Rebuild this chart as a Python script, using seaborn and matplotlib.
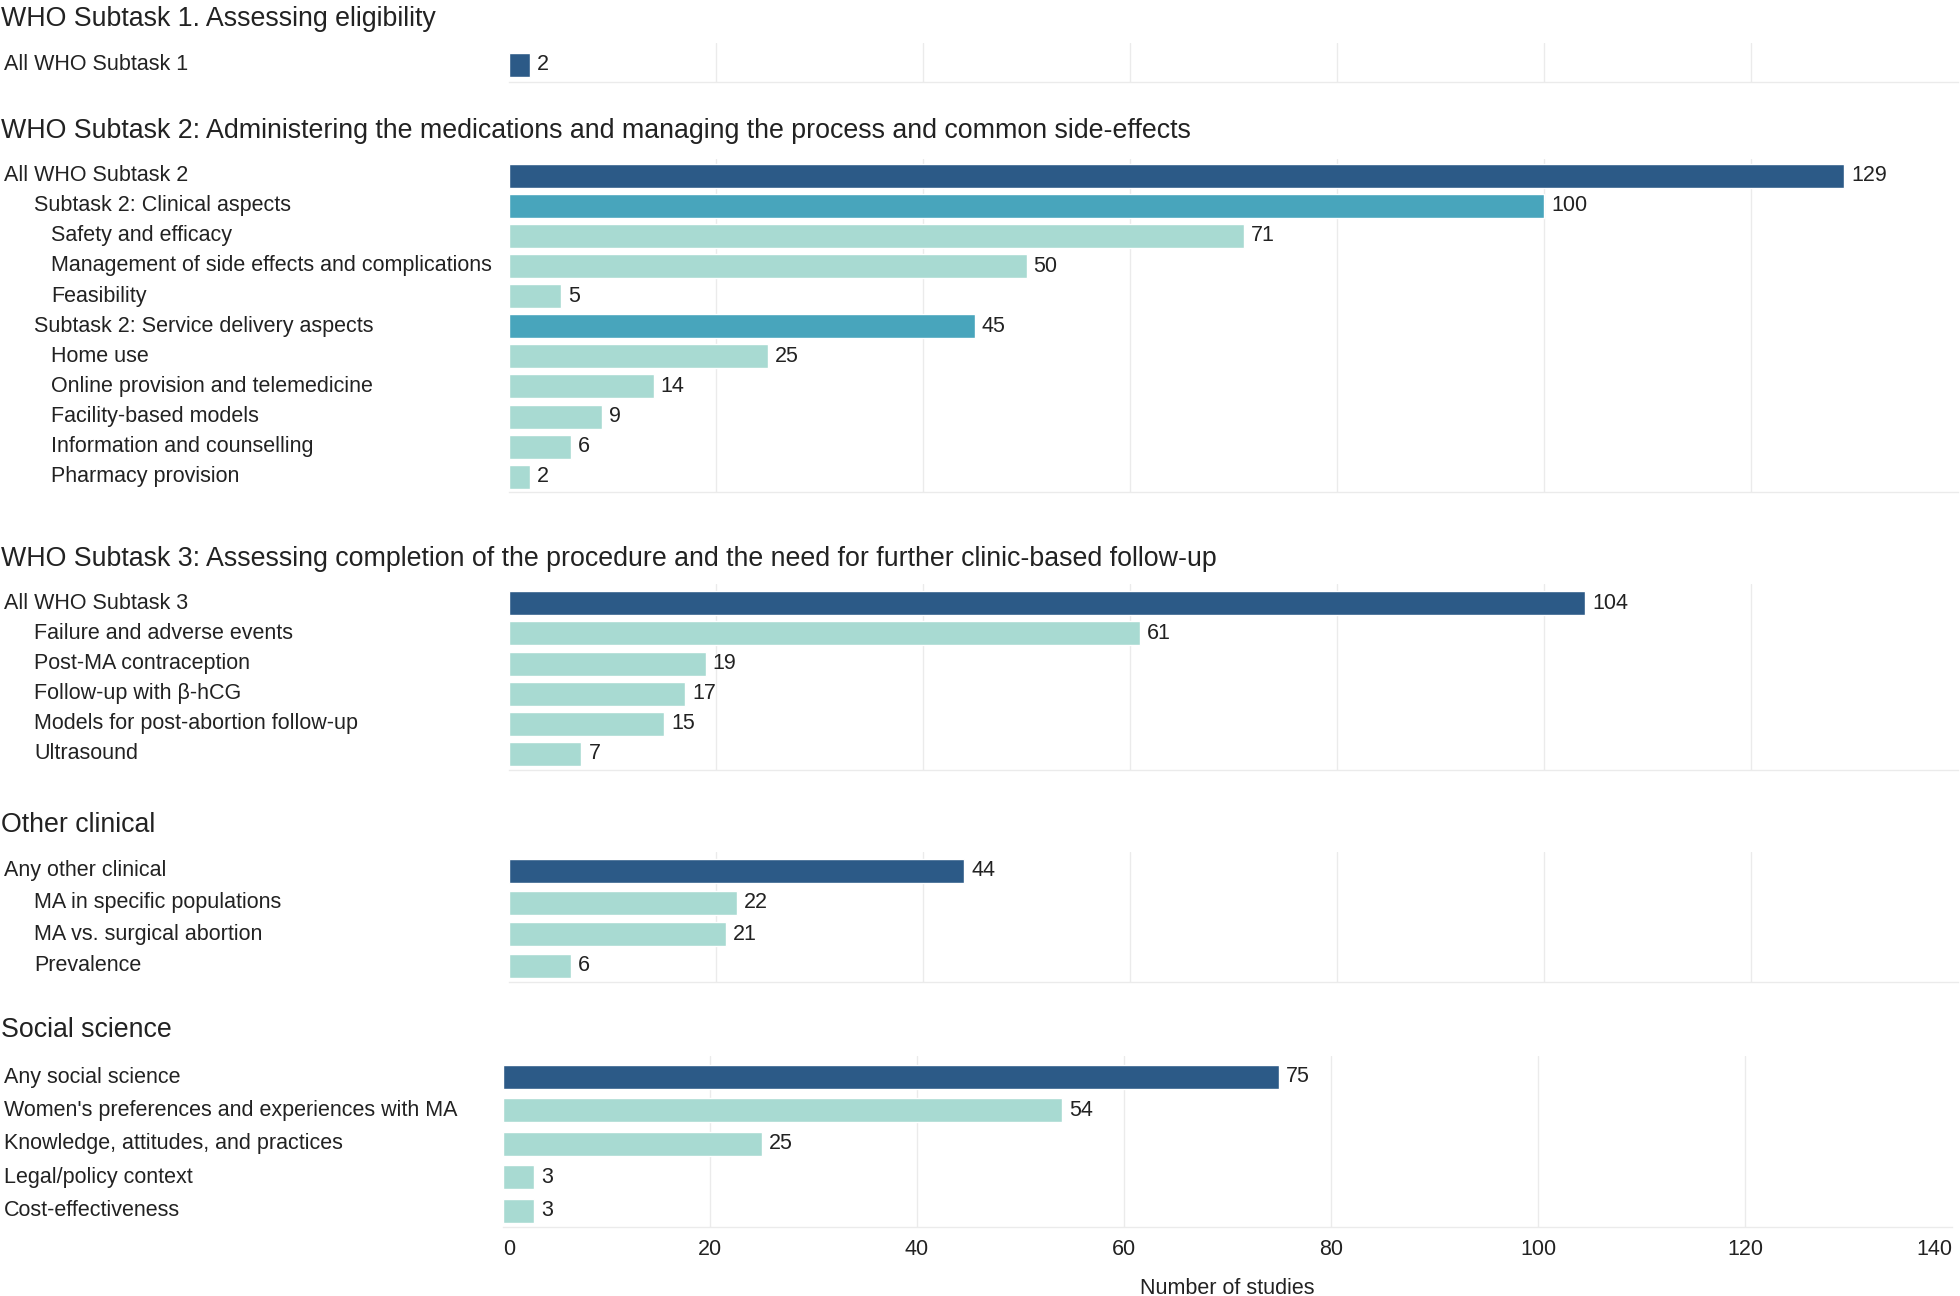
import matplotlib
matplotlib.use("Agg")
import matplotlib.pyplot as plt
from matplotlib.transforms import blended_transform_factory
import seaborn as sns
import pandas as pd

# ---- data ----
s1_title = "WHO Subtask 1. Assessing eligibility"
s1_labels = ["All WHO Subtask 1"]
s1_values = [2]
s1_depth = [0]
s1_kind = ["all"]

s2_title = "WHO Subtask 2: Administering the medications and managing the process and common side-effects"
s2_labels = ["All WHO Subtask 2", "Subtask 2: Clinical aspects", "Safety and efficacy",
             "Management of side effects and complications", "Feasibility",
             "Subtask 2: Service delivery aspects", "Home use", "Online provision and telemedicine",
             "Facility-based models", "Information and counselling", "Pharmacy provision"]
s2_values = [129, 100, 71, 50, 5, 45, 25, 14, 9, 6, 2]
s2_depth = [0, 1, 2, 2, 2, 1, 2, 2, 2, 2, 2]
s2_kind = ["all", "sub", "leaf", "leaf", "leaf", "sub", "leaf", "leaf", "leaf", "leaf", "leaf"]

s3_title = "WHO Subtask 3: Assessing completion of the procedure and the need for further clinic-based follow-up"
s3_labels = ["All WHO Subtask 3", "Failure and adverse events", "Post-MA contraception",
             "Follow-up with β-hCG", "Models for post-abortion follow-up", "Ultrasound"]
s3_values = [104, 61, 19, 17, 15, 7]
s3_depth = [0, 1, 1, 1, 1, 1]
s3_kind = ["all", "leaf", "leaf", "leaf", "leaf", "leaf"]

s4_title = "Other clinical"
s4_labels = ["Any other clinical", "MA in specific populations", "MA vs. surgical abortion", "Prevalence"]
s4_values = [44, 22, 21, 6]
s4_depth = [0, 1, 1, 1]
s4_kind = ["all", "leaf", "leaf", "leaf"]

s5_title = "Social science"
s5_labels = ["Any social science", "Women's preferences and experiences with MA",
             "Knowledge, attitudes, and practices", "Legal/policy context", "Cost-effectiveness"]
s5_values = [75, 54, 25, 3, 3]
s5_depth = [0, 0, 0, 0, 0]
s5_kind = ["all", "leaf", "leaf", "leaf", "leaf"]

x_ticks = [0, 20, 40, 60, 80, 100, 120, 140]
x_label = "Number of studies"

KIND_COLORS = {"all": "#2c5a87", "sub": "#48a5bc", "leaf": "#a8dad2"}
TXT = "#222222"
GRID = "#ebebeb"

sns.set_theme(style="white")
plt.rcParams["font.family"] = ["Liberation Sans", "DejaVu Sans"]

W, H = 1960, 1296
fig = plt.figure(figsize=(W / 100, H / 100), dpi=100)

LAB_FS = 15.5
TITLE_FS = 19.3

# layout in pixels: (title_y, left, first_center, spacing, top, bottom)
sections = [
    (s1_title, s1_labels, s1_values, s1_depth, s1_kind, 19, 509, 64.7, 30.0, 43, 81.7),
    (s2_title, s2_labels, s2_values, s2_depth, s2_kind, 131, 509, 175.7, 30.1, 159, 491.7),
    (s3_title, s3_labels, s3_values, s3_depth, s3_kind, 559, 509, 603.3, 30.1, 584, 770),
    (s4_title, s4_labels, s4_values, s4_depth, s4_kind, 825, 509, 870.8, 31.7, 852, 981.7),
    (s5_title, s5_labels, s5_values, s5_depth, s5_kind, 1030, 503, 1077, 33.4, 1056, 1226.7),
]
indent_px = [4, 34, 51]
bar_px = 24
width_px = 1449

for k, (title, labels, values, depth, kind, ty, left, c0, sp, top, bot) in enumerate(sections):
    ax = fig.add_axes([left / W, 1 - bot / H, width_px / W, (bot - top) / H])
    df = pd.DataFrame({"label": labels, "value": values, "kind": kind})
    sns.barplot(data=df, x="value", y="label", hue="kind", palette=KIND_COLORS,
                orient="h", dodge=False, width=bar_px / sp, legend=False, ax=ax,
                saturation=1)
    for cont in ax.containers:
        ax.bar_label(cont, padding=5, fontsize=LAB_FS, color=TXT)
    ax.set_xlim(0, 140)
    ax.set_ylim((bot - c0) / sp, (top - c0) / sp)
    ax.set_xticks(x_ticks)
    ax.grid(axis="x", color=GRID, linewidth=1)
    ax.set_axisbelow(True)
    gl = ax.get_xgridlines()
    gl[0].set_visible(False)
    gl[-1].set_visible(False)
    for side in ["top", "left", "right"]:
        ax.spines[side].set_visible(False)
    ax.spines["bottom"].set_color(GRID)
    ax.spines["bottom"].set_linewidth(1)
    ax.set_ylabel("")
    ax.set_xlabel("")
    ax.set_yticks([])
    ax.tick_params(axis="both", length=0)

    # indented category labels
    trans = blended_transform_factory(fig.transFigure, ax.transData)
    for i, (lab, d) in enumerate(zip(labels, depth)):
        ax.text(indent_px[d] / W, i, lab, transform=trans, ha="left", va="center",
                fontsize=LAB_FS, color=TXT)

    fig.text(1 / W, 1 - ty / H, title, ha="left", va="center", fontsize=TITLE_FS, color=TXT)

    if k == len(sections) - 1:
        ax.tick_params(axis="x", labelsize=LAB_FS, labelcolor=TXT, pad=9)
        tl = ax.get_xticklabels()
        tl[0].set_horizontalalignment("left")
        tl[-1].set_horizontalalignment("right")
        fig.text((left + width_px / 2) / W, 1 - 1288 / H, x_label, ha="center",
                 va="center", fontsize=LAB_FS, color=TXT)
    else:
        ax.tick_params(axis="x", labelbottom=False)

fig.savefig("out.png", dpi=100, facecolor="white")
